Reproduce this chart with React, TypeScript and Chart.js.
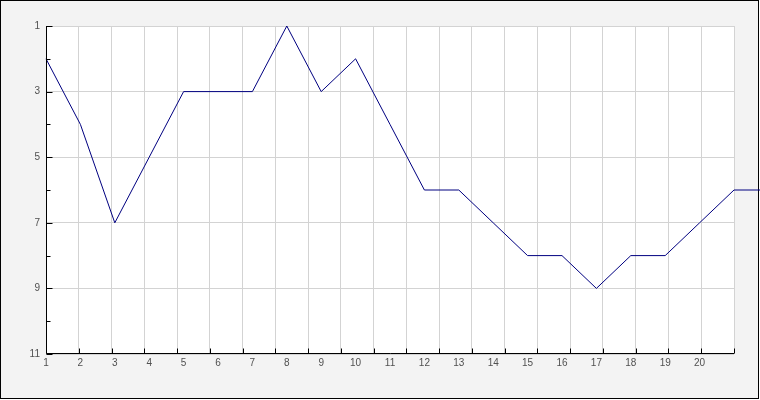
import React, { useEffect, useRef } from "react";
import { Chart, registerables } from "chart.js";

Chart.register(...registerables);

// Category labels shown under the axis (data positions)
const xLabels = [1, 2, 3, 4, 5, 6, 7, 8, 9, 10, 11, 12, 13, 14, 15, 16, 17, 18, 19, 20];
// Data positions and values (rank, reversed axis)
const xValues = [1, 2, 3, 4, 5, 6, 7, 8, 9, 10, 11, 12, 13, 14, 15, 16, 17, 18, 19, 20, 21, 22];
const rankValues = [2, 4, 7, 5, 3, 3, 3, 1, 3, 2, 4, 6, 6, 7, 8, 8, 9, 8, 8, 7, 6, 6];
// Vertical grid/tick divisions
const gridSteps = [0, 1, 2, 3, 4, 5, 6, 7, 8, 9, 10, 11, 12, 13, 14, 15, 16, 17, 18, 19, 20, 21];
// Y axis labelled ticks and minor ticks
const yMajorTicks = [1, 3, 5, 7, 9, 11];
const yMinorTicks = [1, 2, 3, 4, 5, 6, 7, 8, 9, 10, 11];
// Visible x range of the data axis
const xRange = [1, 21];

const FONT = { family: "'Liberation Sans', Arial, sans-serif", size: 10 };
const LABEL_COLOR = "#505050";

const axisPlugin = {
  id: "innerAxes",
  afterDraw(chart: any) {
    const { ctx, chartArea } = chart;
    const x2 = chart.scales.x2;
    const y = chart.scales.y;
    const left = Math.round(chartArea.left) + 0.5;
    const bottom = Math.round(chartArea.bottom) - 0.5;
    ctx.save();
    ctx.strokeStyle = "#000000";
    ctx.lineWidth = 1;
    ctx.beginPath();
    ctx.moveTo(left, Math.round(chartArea.top));
    ctx.lineTo(left, bottom);
    ctx.lineTo(Math.round(chartArea.right), bottom);
    gridSteps.forEach((v) => {
      const px = Math.round(x2.getPixelForValue(v)) + 0.5;
      ctx.moveTo(px, bottom);
      ctx.lineTo(px, bottom - 5);
    });
    yMinorTicks.forEach((v) => {
      const py = Math.round(y.getPixelForValue(v)) + 0.5;
      const len = yMajorTicks.includes(v) ? 6 : 4;
      ctx.moveTo(left, py);
      ctx.lineTo(left + len, py);
    });
    ctx.stroke();
    ctx.restore();
  },
};

export default function App() {
  const canvasRef = useRef<HTMLCanvasElement | null>(null);

  useEffect(() => {
    document.body.style.margin = "0";
    const canvas = canvasRef.current;
    if (!canvas) return;
    const chart = new Chart(canvas, {
      type: "line",
      data: {
        datasets: [
          {
            data: xValues.map((x, i) => ({ x, y: rankValues[i] })),
            borderColor: "#000080",
            borderWidth: 1,
            pointRadius: 0,
            tension: 0,
            fill: false,
            clip: false as any,
            xAxisID: "x",
            yAxisID: "y",
          },
        ],
      },
      options: {
        responsive: false,
        animation: false,
        devicePixelRatio: 1,
        layout: { padding: { top: 26, right: 26, left: 0, bottom: 0 } },
        plugins: {
          legend: { display: false },
          tooltip: { enabled: false },
          title: { display: false },
        },
        scales: {
          x: {
            type: "linear",
            position: "bottom",
            bounds: "data",
            afterDataLimits: (scale: any) => {
              scale.min = xRange[0];
              scale.max = xRange[1];
            },
            afterBuildTicks: (scale: any) => {
              scale.min = xRange[0];
              scale.max = xRange[1];
              scale.ticks = xLabels.map((v) => ({ value: v }));
            },
            afterFit: (scale: any) => {
              scale.height = 46;
            },
            grid: { display: false, drawTicks: false },
            border: { display: false },
            ticks: {
              font: FONT,
              color: LABEL_COLOR,
              padding: 3,
              maxRotation: 0,
              autoSkip: false,
              callback: (v: any) => String(v),
            },
          },
          x2: {
            type: "linear",
            position: "bottom",
            min: 0,
            max: 21,
            afterBuildTicks: (scale: any) => {
              scale.ticks = gridSteps.map((v) => ({ value: v }));
            },
            afterFit: (scale: any) => {
              scale.height = 0;
            },
            grid: { display: true, color: "#d3d3d3", lineWidth: 1, drawTicks: false },
            border: { display: false },
            ticks: { display: false },
          },
          y: {
            type: "linear",
            reverse: true,
            min: 1,
            max: 11,
            afterBuildTicks: (scale: any) => {
              scale.ticks = yMajorTicks.map((v) => ({ value: v }));
            },
            afterFit: (scale: any) => {
              scale.width = 46;
            },
            grid: { display: true, color: "#d3d3d3", lineWidth: 1, drawTicks: false },
            border: { display: false },
            ticks: {
              font: FONT,
              color: LABEL_COLOR,
              padding: 6,
              callback: (v: any) => String(v),
            },
          },
        },
      },
      plugins: [
        {
          id: "plotBg",
          beforeDraw(c: any) {
            const { ctx, chartArea } = c;
            ctx.save();
            ctx.fillStyle = "#ffffff";
            ctx.fillRect(
              chartArea.left,
              chartArea.top,
              chartArea.right - chartArea.left,
              chartArea.bottom - chartArea.top
            );
            ctx.restore();
          },
        },
        axisPlugin,
      ],
    });
    return () => chart.destroy();
  }, []);

  return (
    <div style={{ position: "fixed", left: 0, top: 0, width: 760, height: 400 }}>
      <div
        style={{
          position: "absolute",
          left: 0,
          top: 0,
          width: 759,
          height: 399,
          boxSizing: "border-box",
          border: "1px solid #000000",
          background: "#f3f3f3",
        }}
      />
      <canvas
        ref={canvasRef}
        width={760}
        height={400}
        style={{ position: "absolute", left: 0, top: 0, width: 760, height: 400 }}
      />
    </div>
  );
}
